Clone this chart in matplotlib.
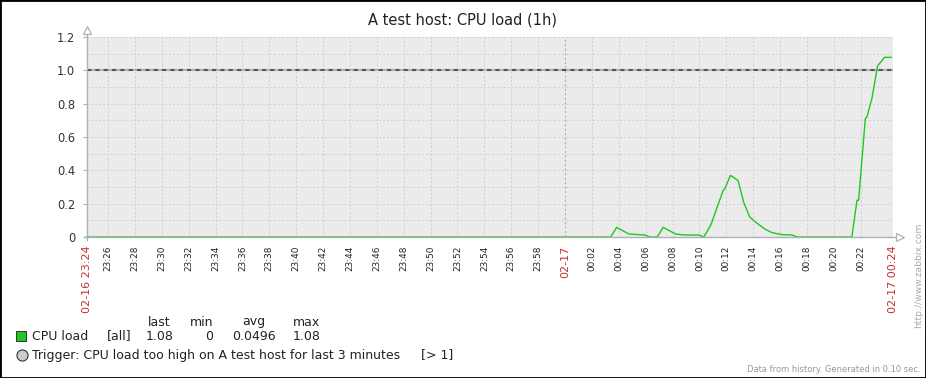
import matplotlib.pyplot as plt
from matplotlib.lines import Line2D

W, H = 926, 378

# minutes relative to 02-17 00:00
minutes = [-35.6, 3.40, 3.84, 4.75, 5.94, 6.32, 6.86, 7.30, 8.22, 8.84, 9.96,
           10.33, 10.87, 11.32, 11.76, 11.89, 12.31, 12.88, 13.30, 13.74,
           14.29, 14.86, 15.40, 16.14, 16.89, 17.26, 21.34, 21.72, 21.84,
           22.34, 22.46, 22.83, 23.25, 23.77, 24.27]
cpu_load = [0, 0, 0.058, 0.018, 0.012, 0, 0, 0.058, 0.018, 0.012, 0.012,
            0, 0.076, 0.18, 0.278, 0.29, 0.37, 0.338, 0.206, 0.12,
            0.082, 0.048, 0.026, 0.014, 0.012, 0, 0, 0.22, 0.22,
            0.71, 0.72, 0.83, 1.026, 1.078, 1.078]

x_start, x_end = -35.6, 24.4
grid_minutes = list(range(-34, 24, 2))
grid_labels = ["23:%02d" % (60 + m) if m < 0 else "00:%02d" % m for m in grid_minutes]
y_ticks = [0, 0.2, 0.4, 0.6, 0.8, 1.0, 1.2]
y_labels = ["0", "0.2", "0.4", "0.6", "0.8", "1.0", "1.2"]
trigger_value = 1.0

legend_cols = ["last", "min", "avg", "max"]
legend_vals = ["1.08", "0", "0.0496", "1.08"]

GREEN = "#1ec81e"
AXIS = "#aab2ba"
RED = "#c0302f"
LEG_FS = 9


def px(x, y):
    return x / W, 1 - y / H


fig = plt.figure(figsize=(W / 100, H / 100), dpi=100)
ax = fig.add_axes([86.5 / W, 1 - 237 / H, (893 - 86.5) / W, 200 / H])
ax.set_facecolor("#ebebeb")
ax.set_xlim(x_start, x_end)
ax.set_ylim(0, 1.2)
for s in ax.spines.values():
    s.set_visible(False)

# grid
for m in grid_minutes:
    if m == 0:
        ax.axvline(m, color="#a8b0ba", lw=0.8, dashes=(2, 2), zorder=1)
    else:
        ax.axvline(m, color="#cfcfd3", lw=0.7, dashes=(2, 2), zorder=1)
for i in range(1, 13):
    ax.axhline(i / 10, color="#cfcfd3", lw=0.7, dashes=(2, 2), zorder=1)

# trigger line
ax.axhline(trigger_value, color="#a9b3bb", lw=1.5, zorder=2)
ax.axhline(trigger_value, color="#555555", lw=1.5, dashes=(2, 2), zorder=3)

ax.plot(minutes, cpu_load, color=GREEN, lw=1.0, zorder=4, clip_on=False)

# y ticks
ax.set_yticks(y_ticks)
ax.set_yticklabels(y_labels, fontsize=8.3, color="#333333")
ax.tick_params(axis="y", length=3, color=AXIS, pad=5)

# x ticks
ticks = [x_start] + grid_minutes + [x_end]
labels = ["02-16 23:24"] + grid_labels + ["02-17 00:24"]
labels[grid_minutes.index(0) + 1] = "02-17"
ax.set_xticks(ticks)
ax.set_xticklabels(labels, rotation=90, va="top", ha="center")
ax.tick_params(axis="x", length=0, pad=6)
for t, lab in zip(ax.get_xticklabels(), labels):
    if "-" in lab:
        t.set_color(RED)
        t.set_fontsize(8)
    else:
        t.set_color("#222222")
        t.set_fontsize(6.4)

# axes with arrows
fig.add_artist(Line2D(*zip(px(86.5, 32), px(86.5, 240)), color=AXIS, lw=1))
fig.add_artist(Line2D(*zip(px(84, 237.5), px(898, 237.5)), color=AXIS, lw=1))
fig.add_artist(Line2D([px(86.5, 30)[0]], [px(86.5, 30)[1]], marker="^", ms=6,
                      mfc="white", mec=AXIS, mew=0.9))
fig.add_artist(Line2D([px(900, 237.5)[0]], [px(900, 237.5)[1]], marker=">", ms=6,
                      mfc="white", mec=AXIS, mew=0.9))

# title
fig.text(*px(463, 20), "A test host: CPU load (1h)", ha="center", va="center",
         fontsize=10.5, color="#222222")

# legend
fig.patches.append(plt.Rectangle(px(16, 341), 10 / W, 10 / H, transform=fig.transFigure,
                                 facecolor=GREEN, edgecolor="#333333", lw=0.7))
fig.text(*px(32, 336), "CPU load", ha="left", va="center", fontsize=LEG_FS, color="#222222")
fig.text(*px(107, 336), "[all]", ha="left", va="center", fontsize=LEG_FS, color="#222222")
col_right = [174, 213, 276, 321]
for name, val, xr in zip(legend_cols, legend_vals, col_right):
    fig.text(*px(xr, 336), val, ha="right", va="center", fontsize=LEG_FS, color="#222222")
head_centers = [159, 202, 254, 307]
for name, xc in zip(legend_cols, head_centers):
    fig.text(*px(xc, 322), name, ha="center", va="center", fontsize=LEG_FS, color="#222222")

fig.add_artist(Line2D([px(21.5, 355)[0]], [px(21.5, 355)[1]], marker="o", ms=8,
                      mfc="#c8ccd0", mec="#333333", mew=0.8))
fig.text(*px(32, 355), "Trigger: CPU load too high on A test host for last 3 minutes",
         ha="left", va="center", fontsize=LEG_FS, color="#222222")
fig.text(*px(421, 355), "[> 1]", ha="left", va="center", fontsize=LEG_FS, color="#222222")

fig.text(*px(919, 275), "http://www.zabbix.com", rotation=90, ha="center", va="center",
         fontsize=6.6, color="#aaaaaa")
fig.text(*px(921, 370), "Data from history. Generated in 0.10 sec.", ha="right",
         va="center", fontsize=6, color="#999999")

# frame
fig.patches.append(plt.Rectangle((0, 0), 1, 1, transform=fig.transFigure,
                                 fill=False, edgecolor="black", lw=2))

fig.savefig("out.png", dpi=100)
